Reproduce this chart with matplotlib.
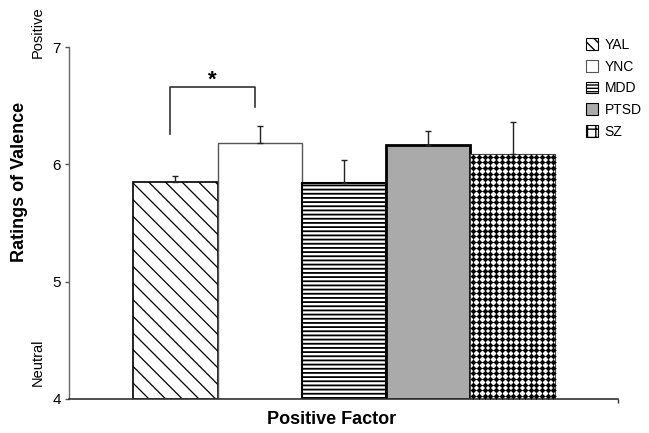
import numpy as np
import matplotlib
matplotlib.use("Agg")
import matplotlib.pyplot as plt
from matplotlib.patches import Patch
from matplotlib.legend_handler import HandlerPatch

plt.rcParams['font.family'] = ['Liberation Sans', 'DejaVu Sans']

groups = ["YAL", "YNC", "MDD", "PTSD", "SZ"]
means = [5.85, 6.18, 5.84, 6.165, 6.09]
errs = [0.05, 0.15, 0.20, 0.12, 0.27]
yticks = [4, 5, 6, 7]
ylabel = "Ratings of Valence"
xlabel = "Positive Factor"

fig = plt.figure(figsize=(6.49, 4.33), dpi=100)
ax = fig.add_axes([69/649, 34/433, (618-69)/649, (399-47)/433])

x = np.arange(len(groups))
styles = [
    dict(facecolor="white", edgecolor="black", hatch="\\\\", linewidth=1.2, hlw=0.9),
    dict(facecolor="white", edgecolor="#555555", hatch=None, linewidth=1.0, hlw=1.0),
    dict(facecolor="white", edgecolor="black", hatch="----", linewidth=1.5, hlw=1.3),
    dict(facecolor="#aaaaaa", edgecolor="black", hatch=None, linewidth=2.0, hlw=1.0),
    dict(facecolor="white", edgecolor="#444444", hatch=None, linewidth=0.8, hlw=1.0),
]
bars = []
for i, (g, m, st) in enumerate(zip(groups, means, styles)):
    plt.rcParams['hatch.linewidth'] = st['hlw']
    b = ax.bar(x[i], m - 4, bottom=4, width=1.0, facecolor=st['facecolor'],
               edgecolor=st['edgecolor'], hatch=st['hatch'], linewidth=st['linewidth'],
               zorder=2)
    bars.append(b[0])
plt.rcParams['hatch.linewidth'] = 1.0

# dotted texture for SZ bar
szb = bars[4]
x0, x1 = szb.get_x(), szb.get_x() + szb.get_width()
y0, y1 = szb.get_y(), szb.get_y() + szb.get_height()
dx, dy = 5.7/84, 5.7/117.3
gx, gy = np.meshgrid(np.arange(x0 + dx/2, x1, dx), np.arange(y1 - dy/2, y0, -dy))
ax.scatter(gx.ravel(), gy.ravel(), s=10, marker='o', color='black', linewidths=0,
           zorder=3, clip_path=szb, clip_on=True)
ax.scatter(gx.ravel(), gy.ravel(), s=14, marker='+', color='black', linewidths=0.7,
           zorder=3, clip_path=szb, clip_on=True)

ax.errorbar(x, means, yerr=[np.zeros(len(errs)), errs], fmt='none', ecolor='#222222',
            elinewidth=1.0, capsize=2.5, capthick=1.0, zorder=4)

# significance bracket
br_x = [-0.06, 0.94]
br_y = [6.26, 6.66, 6.49]
ax.plot([br_x[0], br_x[0], br_x[1], br_x[1]], [br_y[0], br_y[1], br_y[1], br_y[2]],
        color='#333333', lw=1.2, zorder=4)
ax.text(sum(br_x)/2, 6.72, "*", ha='center', va='center', fontsize=16, fontweight='bold')

ax.set_xlim(-1.262, 5.25)
ax.set_ylim(4, 7)
ax.set_yticks(yticks)
ax.set_yticklabels([str(t) for t in yticks], fontsize=11)
ax.set_xticks([5.25])
ax.set_xticklabels([""])
ax.tick_params(axis='y', direction='out', length=3, width=1, color='#555555', pad=3)
ax.tick_params(axis='x', direction='out', length=3, width=1, color='#333333')
for s in ['top', 'right']:
    ax.spines[s].set_visible(False)
ax.spines['left'].set_color('#666666')
ax.spines['bottom'].set_color('#333333')
ax.spines['left'].set_linewidth(1.0)
ax.spines['bottom'].set_linewidth(1.2)

fig.text(20/649, 1 - 182/433, ylabel, rotation=90, ha='center', va='center',
         fontsize=13, fontweight='bold')
fig.text(38/649, 1 - 32/433, "Positive", rotation=90, ha='center', va='center', fontsize=10.5)
fig.text(38/649, 1 - 362/433, "Neutral", rotation=90, ha='center', va='center', fontsize=10.5)
fig.text(332/649, 1 - 420/433, xlabel, ha='center', va='center', fontsize=13,
         fontweight='bold')

handles = [
    Patch(facecolor='white', edgecolor='black', hatch='\\\\\\', linewidth=0.8),
    Patch(facecolor='white', edgecolor='#555555', linewidth=0.8),
    Patch(facecolor='white', edgecolor='black', hatch='-----', linewidth=0.8),
    Patch(facecolor='#aaaaaa', edgecolor='black', linewidth=0.8),
    Patch(facecolor='white', edgecolor='black', hatch='++', linewidth=0.8),
]

class SquareHandler(HandlerPatch):
    def create_artists(self, legend, orig_handle, xdescent, ydescent, width, height,
                       fontsize, trans):
        side = min(width, height) * 1.05
        p = plt.Rectangle((-xdescent + (width - side)/2, -ydescent + (height - side)/2),
                          side, side)
        self.update_prop(p, orig_handle, legend)
        p.set_transform(trans)
        return [p]

leg = ax.legend(handles, groups, loc='upper left', bbox_to_anchor=(586/649, 1 - 38/433),
                bbox_transform=fig.transFigure, frameon=False, fontsize=10,
                handlelength=0.85, handleheight=0.85, handletextpad=0.5, labelspacing=0.55,
                borderaxespad=0, borderpad=0,
                handler_map={Patch: SquareHandler()})

fig.savefig("out.png", dpi=100)
